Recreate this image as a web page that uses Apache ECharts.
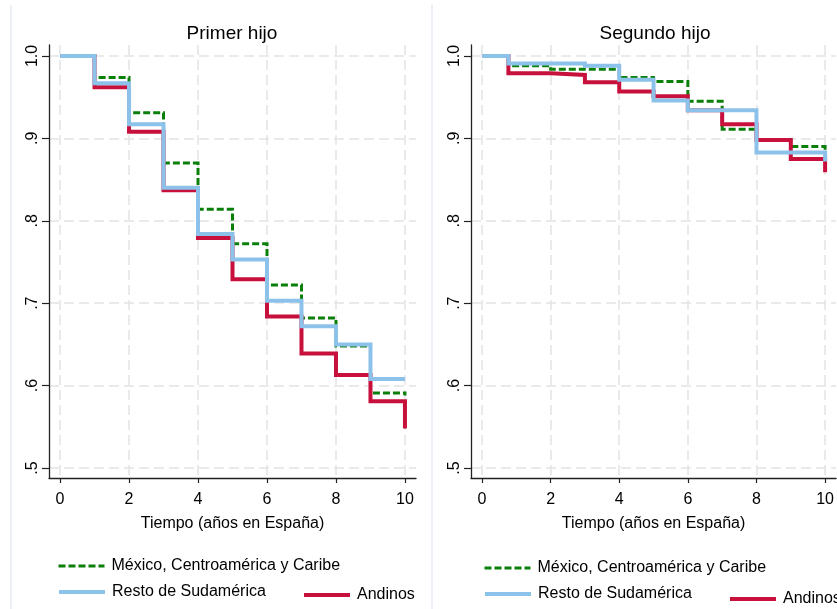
<!DOCTYPE html>
<html>
<head>
<meta charset="utf-8">
<script src="https://cdn.jsdelivr.net/npm/echarts@6/dist/echarts.min.js"></script>
<style>
  html, body { margin: 0; padding: 0; background: #ffffff; }
  #chart { width: 837px; height: 609px; }
</style>
</head>
<body>
<div id="chart"></div>
<script>
// ---- Data ----
const panelTitles = ['Primer hijo', 'Segundo hijo'];
const xAxisTitle = 'Tiempo (años en España)';
const seriesNames = ['México, Centroamérica y Caribe', 'Resto de Sudamérica', 'Andinos'];
const xTicks = [0, 2, 4, 6, 8, 10];
const yTicks = [0.5, 0.6, 0.7, 0.8, 0.9, 1.0];
const yTickLabels = ['.5', '.6', '.7', '.8', '.9', '1.0'];

// Primer hijo (first child)
const timesPrimer = [0, 1, 2, 3, 4, 5, 6, 7, 8, 9, 10];
const mexicoPrimer = [1.0, 0.974, 0.931, 0.870, 0.814, 0.772, 0.722, 0.682, 0.648, 0.591, 0.588];
const restoPrimer = [1.0, 0.967, 0.917, 0.840, 0.784, 0.753, 0.703, 0.672, 0.650, 0.608, 0.608];
const andinosPrimer = [1.0, 0.962, 0.908, 0.837, 0.779, 0.729, 0.684, 0.639, 0.613, 0.581, 0.548];

// Segundo hijo (second child)
const timesSegundo = [0, 0.77, 2, 3, 4, 5, 6, 7, 8, 9, 10];
const mexicoSegundo = [1.0, 0.988, 0.984, 0.984, 0.974, 0.969, 0.945, 0.911, 0.898, 0.890, 0.885];
const restoSegundo = [1.0, 0.991, 0.991, 0.988, 0.971, 0.946, 0.934, 0.934, 0.883, 0.883, 0.872];
const andinosSegundo = [1.0, 0.979, 0.977, 0.968, 0.957, 0.951, 0.934, 0.917, 0.898, 0.875, 0.859];

// ---- Styles ----
const colors = { mexico: '#0a7f0a', resto: '#8cc2ea', andinos: '#c8103c' };
const FONT = 'Liberation Sans, Arial, sans-serif';
const greenDash = [7, 3];

function pairs(xs, ys) { return xs.map((x, i) => [x, ys[i]]); }

function yLabel(v) {
  for (let i = 0; i < yTicks.length; i++) {
    if (Math.abs(v - yTicks[i]) < 1e-6) return yTickLabels[i];
  }
  return '';
}

const gridLineStyle = { color: '#e3e3e3', width: 1.5, type: [10, 5] };

function makeXAxis(gi) {
  return {
    type: 'value', gridIndex: gi, min: -0.32, max: 10.32,
    name: xAxisTitle, nameLocation: 'middle', nameGap: 38,
    nameTextStyle: { fontFamily: FONT, fontSize: 16, color: '#000' },
    axisLine: { show: true, onZero: false, lineStyle: { color: '#222', width: 1.3 } },
    axisTick: { show: true, length: 5, customValues: xTicks, lineStyle: { color: '#222', width: 1.2 } },
    axisLabel: { customValues: xTicks, margin: 14, fontFamily: FONT, fontSize: 16, color: '#000' },
    splitLine: { show: true, lineStyle: gridLineStyle }
  };
}
function makeYAxis(gi) {
  return {
    type: 'value', gridIndex: gi, min: 0.4879, max: 1.0133,
    axisLine: { show: true, onZero: false, lineStyle: { color: '#222', width: 1.3 } },
    axisTick: { show: true, length: 7, customValues: yTicks, lineStyle: { color: '#222', width: 1.2 } },
    axisLabel: { customValues: yTicks, rotate: 90, margin: 8, fontFamily: FONT, fontSize: 16, color: '#000',
                 formatter: yLabel },
    splitLine: { show: true, lineStyle: gridLineStyle }
  };
}

function makeSeries(name, gi, xs, ys, color, width, dash) {
  return {
    name: name, type: 'line', step: 'end', xAxisIndex: gi, yAxisIndex: gi,
    data: pairs(xs, ys), symbol: 'none', animation: false,
    lineStyle: { color: color, width: width, type: dash || 'solid', cap: 'butt', join: 'miter' },
    itemStyle: { color: color }
  };
}

function makeLegend(name, left, top, width, dash, color) {
  return {
    data: [name], left: left, top: top, orient: 'horizontal',
    itemWidth: 46, itemHeight: 16, itemGap: 0, padding: 0,
    textStyle: { fontFamily: FONT, fontSize: 16, color: '#000', padding: [0, 0, 0, 2] },
    lineStyle: { width: width, type: dash || 'solid', color: color },
    itemStyle: { opacity: 0, borderWidth: 0 },
    selectedMode: false
  };
}

const chart = echarts.init(document.getElementById('chart'), null, { renderer: 'canvas' });
chart.setOption({
  backgroundColor: '#ffffff',
  animation: false,
  title: [
    { text: panelTitles[0], left: 232, top: 24, textAlign: 'center', padding: 0,
      textStyle: { fontFamily: FONT, fontSize: 19, fontWeight: 'normal', color: '#000' } },
    { text: panelTitles[1], left: 655, top: 24, textAlign: 'center', padding: 0,
      textStyle: { fontFamily: FONT, fontSize: 19, fontWeight: 'normal', color: '#000' } }
  ],
  grid: [
    { left: 49, top: 45, width: 367, height: 433, containLabel: false },
    { left: 471, top: 45, width: 367, height: 433, containLabel: false }
  ],
  xAxis: [makeXAxis(0), makeXAxis(1)],
  yAxis: [makeYAxis(0), makeYAxis(1)],
  legend: [
    makeLegend(seriesNames[0], 57, 558, 3, greenDash, colors.mexico),
    makeLegend(seriesNames[1], 57, 584, 4, 'solid', colors.resto),
    makeLegend(seriesNames[2], 302, 587, 4, 'solid', colors.andinos),
    makeLegend(seriesNames[0], 483, 560, 3, greenDash, colors.mexico),
    makeLegend(seriesNames[1], 483, 586, 4, 'solid', colors.resto),
    makeLegend(seriesNames[2], 728, 591, 4, 'solid', colors.andinos)
  ],
  graphic: [
    { type: 'line', shape: { x1: 11, y1: 5, x2: 11, y2: 609 }, style: { stroke: '#e4ebf3', lineWidth: 1.5 }, silent: true },
    { type: 'line', shape: { x1: 432, y1: 5, x2: 432, y2: 609 }, style: { stroke: '#e4ebf3', lineWidth: 1.5 }, silent: true }
  ],
  series: [
    makeSeries(seriesNames[0], 0, timesPrimer, mexicoPrimer, colors.mexico, 3, greenDash),
    makeSeries(seriesNames[2], 0, timesPrimer, andinosPrimer, colors.andinos, 4),
    makeSeries(seriesNames[1], 0, timesPrimer, restoPrimer, colors.resto, 4),
    makeSeries(seriesNames[0], 1, timesSegundo, mexicoSegundo, colors.mexico, 3, greenDash),
    makeSeries(seriesNames[2], 1, timesSegundo, andinosSegundo, colors.andinos, 4),
    makeSeries(seriesNames[1], 1, timesSegundo, restoSegundo, colors.resto, 4)
  ]
});
</script>
</body>
</html>
